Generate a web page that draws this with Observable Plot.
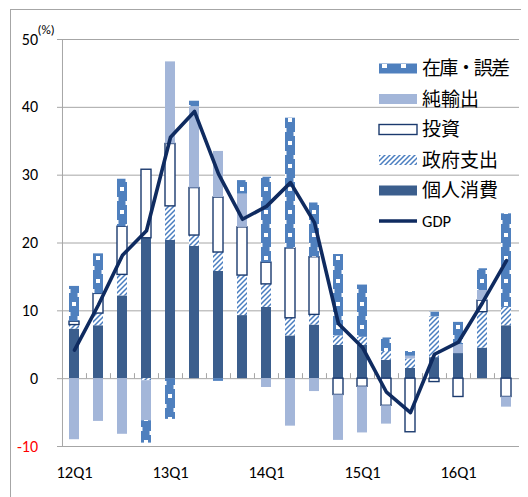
<!DOCTYPE html>
<html><head><meta charset="utf-8">
<script src="https://cdn.jsdelivr.net/npm/d3@7"></script>
<script src="https://cdn.jsdelivr.net/npm/@observablehq/plot@0.6"></script>
<style>
html,body{margin:0;padding:0;background:#fff;}
#wrap{position:relative;width:528px;height:497px;overflow:hidden;background:#fff;}
#wrap svg{position:absolute;left:0;top:0;}
#border{position:absolute;left:10px;top:9px;width:510px;height:500px;border-top:1px solid #a6a6a6;border-left:1px solid #a6a6a6;pointer-events:none;}
</style></head>
<body><div id="wrap"></div>
<script>
// ---- data ----
const quarters = ["12Q1","12Q2","12Q3","12Q4","13Q1","13Q2","13Q3","13Q4","14Q1","14Q2","14Q3","14Q4","15Q1","15Q2","15Q3","15Q4","16Q1","16Q2","16Q3"];
const consumption = [7.3, 7.8, 12.2, 20.7, 20.4, 19.5, 15.8, 9.3, 10.5, 6.3, 7.9, 4.9, 4.9, 2.7, 1.5, 3.1, 3.7, 4.5, 7.8];
const government  = [0.6, 1.8, 3.1, -0.3, 5.0, 1.6, 2.8, 5.9, 3.4, 2.6, 1.5, 1.4, 1.2, 1.3, 1.4, 6.0, 0.0, 5.3, 2.7];
const investment  = [0.5, 2.9, 7.1, 10.1, 9.2, 7.0, 8.1, 7.1, 3.2, 10.3, 8.5, -2.4, -1.2, -4.0, -7.9, -0.5, -2.7, 1.7, -2.7];
const netExports  = [-9.0, -6.3, -8.2, -5.9, 12.1, 12.0, 6.8, 4.9, -1.3, -7.0, -1.9, -6.7, -6.8, -2.7, 0.4, 0.0, 1.3, 1.5, -1.5];
const inventory   = [5.2, 5.9, 7.0, -3.3, -6.0, 0.8, -0.4, 2.0, 12.6, 19.2, 8.0, 12.0, 7.7, 2.0, 0.7, 0.7, 3.3, 3.2, 13.8];
const gdp         = [4.2, 10.9, 18.2, 21.8, 35.6, 39.4, 30.2, 23.5, 25.4, 28.9, 23.0, 8.1, 4.6, -2.0, -5.0, 3.6, 5.4, 11.2, 17.4];
const yTicks = [-10, 0, 10, 20, 30, 40, 50];
const seriesNames = ["個人消費", "政府支出", "投資", "純輸出", "在庫・誤差"];
const legendOrder = ["在庫・誤差", "純輸出", "投資", "政府支出", "個人消費", "GDP"];

// ---- styles ----
const grid = "#a6a6a6";
const navy = "#0f2b60";
const fills = {"個人消費": "#3b5e8d", "政府支出": "url(#hatch)", "投資": "#ffffff", "純輸出": "#a3b6d9", "在庫・誤差": "url(#dots)"};
const strokes = {"投資": "#1b3a6e"};
const medBlue = "#4f80be";

const seriesValues = [consumption, government, investment, netExports, inventory];
const rows = quarters.flatMap((q, i) => seriesNames.map((k, j) => ({q, k, v: seriesValues[j][i]})));
const gdpRows = quarters.map((q, i) => ({q, v: gdp[i]}));

const W = 528, H = 497, mL = 62, mR = 9, mT = 39, mB = 51;
const step = (W - mL - mR) / quarters.length;

const svg = Plot.plot({
  width: W, height: H,
  marginLeft: mL, marginRight: mR, marginTop: mT, marginBottom: mB,
  style: {fontFamily: "Carlito, Lato, sans-serif", fontSize: "16px", color: "#000", background: "transparent"},
  x: {type: "band", domain: quarters, paddingInner: 0.58, paddingOuter: 0.29, axis: null, label: null},
  y: {domain: [-10, 50], axis: null, label: null},
  color: {type: "identity"},
  marks: [
    Plot.ruleY(yTicks, {stroke: grid, strokeWidth: 1}),
    Plot.axisY({ticks: yTicks, tickSize: 5, tickFormat: () => "", color: grid, label: null}),
    Plot.ruleX([quarters[0]], {y1: -10, y2: 50, dx: -step / 2, stroke: grid}),
    Plot.ruleX(quarters.slice(1), {y1: 0, y2: 0.74, dx: -step / 2, stroke: grid}),
    Plot.barY(rows, Plot.stackY({
      x: "q", y: "v", z: "k",
      fill: d => fills[d.k],
      stroke: d => strokes[d.k] ?? "none",
      strokeWidth: 1.4
    })),
    Plot.lineY(gdpRows, {x: "q", y: "v", stroke: navy, strokeWidth: 3.6, strokeLinejoin: "round"}),
    Plot.text(yTicks, {y: d => d, text: d => String(d), frameAnchor: "left", textAnchor: "end", dx: -24.5,
      fill: d => d < 0 ? "#ff0000" : "#000000", fontSize: 16}),
    Plot.text(["(%)"], {text: d => d, frameAnchor: "top-left", textAnchor: "start", lineAnchor: "middle", dx: -25, dy: -10, fontSize: 13, fill: "#000"}),
    Plot.text(quarters.filter(q => q.endsWith("Q1")), {x: d => d, text: d => d, frameAnchor: "bottom", lineAnchor: "middle", dy: 26, fontSize: 16.5, fill: "#000"})
  ]
});

// ---- patterns ----
const xs = svg.scale("x");
const x0 = xs.apply(quarters[0]);
const bw = xs.bandwidth;
const st = xs.step;
const root = d3.select(svg);
const defs = root.insert("defs", ":first-child");
const hatch = defs.append("pattern").attr("id", "hatch").attr("patternUnits", "userSpaceOnUse")
  .attr("width", 5).attr("height", 5);
hatch.append("rect").attr("width", 5).attr("height", 5).attr("fill", "#fff");
hatch.append("path").attr("d", "M-1,1 L1,-1 M0,5 L5,0 M4,6 L6,4")
  .attr("stroke", "#4a7ec0").attr("stroke-width", 1.5);
const dots = defs.append("pattern").attr("id", "dots").attr("patternUnits", "userSpaceOnUse")
  .attr("x", x0).attr("y", 0).attr("width", st).attr("height", 23);
dots.append("rect").attr("width", st).attr("height", 23).attr("fill", medBlue);
dots.append("rect").attr("x", bw / 2 - 2).attr("y", 3).attr("width", 4).attr("height", 4).attr("fill", "#fff");
dots.append("rect").attr("x", 0).attr("y", 13).attr("width", 1.5).attr("height", 4).attr("fill", "#fff");
dots.append("rect").attr("x", bw - 1.5).attr("y", 17).attr("width", 1.5).attr("height", 4).attr("fill", "#fff");
// legend swatch version of dots
const ldots = defs.append("pattern").attr("id", "ldots").attr("patternUnits", "userSpaceOnUse")
  .attr("x", 379).attr("y", 0).attr("width", 19).attr("height", 100);
ldots.append("rect").attr("width", 19).attr("height", 100).attr("fill", medBlue);
ldots.append("rect").attr("x", 3).attr("y", 64).attr("width", 5).attr("height", 4).attr("fill", "#fff");

// ---- legend ----
const lg = root.append("g").attr("text-anchor", "start");
const lx = 379, lw = 38, tx = 422;
legendOrder.forEach((name, i) => {
  const cy = 68.5 + i * 30.5;
  if (name === "GDP") {
    lg.append("line").attr("x1", lx).attr("x2", lx + lw).attr("y1", cy).attr("y2", cy)
      .attr("stroke", navy).attr("stroke-width", 3.6);
  } else {
    const f = name === "在庫・誤差" ? "url(#ldots)" : fills[name];
    lg.append("rect").attr("x", lx).attr("y", cy - 5).attr("width", lw).attr("height", 10)
      .attr("fill", f).attr("stroke", strokes[name] ?? "none").attr("stroke-width", 1.4);
  }
  const t = lg.append("text").attr("x", tx).attr("y", cy).attr("dy", "0.35em")
    .attr("text-anchor", "start").attr("fill", "#000").text(name);
  if (name === "GDP") {
    t.attr("font-family", "Carlito, Lato, sans-serif").attr("font-size", 16.5);
  } else {
    t.attr("font-family", "'Noto Sans CJK JP', sans-serif").attr("font-size", 19);
    if (name.includes("・")) t.attr("textLength", 88).attr("lengthAdjust", "spacing");
  }
});

const wrap = document.getElementById("wrap");
wrap.appendChild(svg);
const border = document.createElement("div");
border.id = "border";
wrap.appendChild(border);
</script>
</body></html>
